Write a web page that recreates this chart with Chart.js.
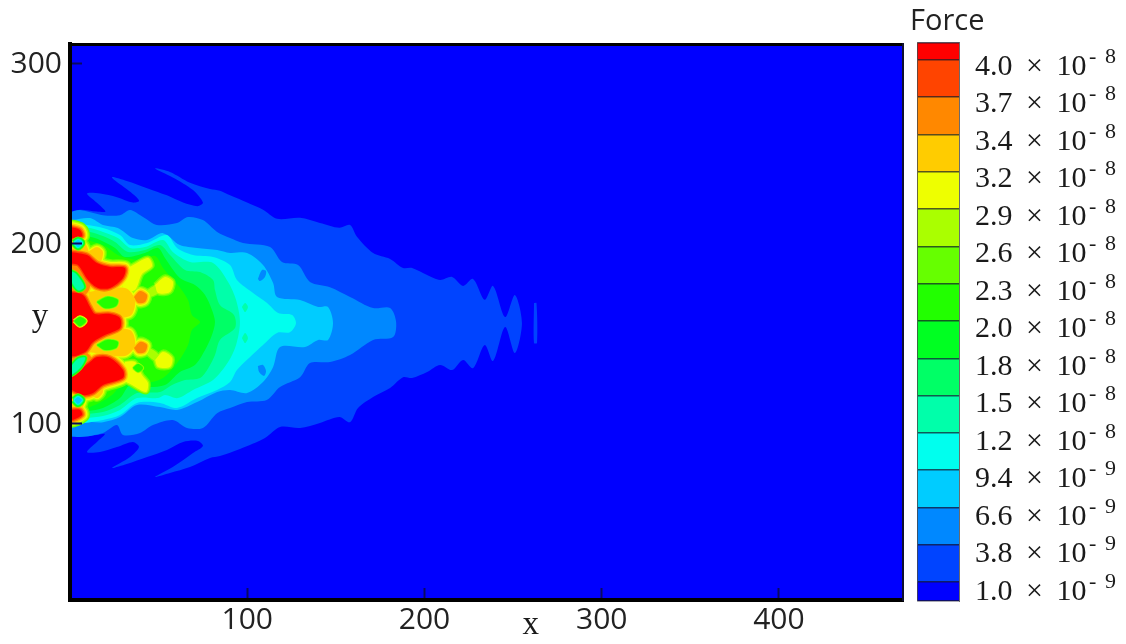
<!DOCTYPE html>
<html>
<head>
<meta charset="utf-8">
<title>Force</title>
<script src="https://cdn.jsdelivr.net/npm/chart.js@4"></script>
<style>
    html, body { margin: 0; padding: 0; background: #fff; }
    #wrap { position: relative; width: 1126px; height: 644px; overflow: hidden; }
    canvas { position: absolute; top: 0; filter: blur(0.5px); }
    #force-map { left: 0; }
    #force-scale { left: 910px; }
</style>
</head>
<body>
<div id="wrap">
    <canvas id="force-map" width="905" height="644"></canvas>
    <canvas id="force-scale" width="216" height="644"></canvas>
</div>
<script>
// Axis ticks
const xTickValues = [100, 200, 300, 400];
const yTickValues = [100, 200, 300];

// Colour scale, lowest band first
const bandColors = ['#0000ff', '#0044ff', '#0088ff', '#00ccff', '#00ffee', '#00ffaa', '#00ff66', '#00ff22',
    '#22ff00', '#66ff00', '#aaff00', '#eeff00', '#ffcc00', '#ff8800', '#ff4400', '#ff0000'];
const levelValues = [1.0e-9, 3.79e-9, 6.57e-9, 9.36e-9, 1.214e-8, 1.493e-8, 1.771e-8, 2.05e-8,
    2.329e-8, 2.607e-8, 2.886e-8, 3.164e-8, 3.443e-8, 3.721e-8, 4.0e-8];
const levelMantissas = ['1.0', '3.8', '6.6', '9.4', '1.2', '1.5', '1.8', '2.0', '2.3', '2.6', '2.9', '3.2', '3.4', '3.7', '4.0'];
const levelExponents = [9, 9, 9, 9, 8, 8, 8, 8, 8, 8, 8, 8, 8, 8, 8];

const plotFrame = [[0, 2.2], [470, 2.2], [470, 311.1], [0, 311.1]];
const contour1 = [[0, 217], [5.6, 219], [15, 218], [20, 218], [15, 223], [9.6, 228], [17, 228], [26.5, 226], [35.5, 223], [39, 224],
    [34, 229], [23.7, 237], [32, 235], [43.5, 231], [54.7, 227], [63.8, 223], [72, 221], [75, 223], [69.4, 230], [58, 237], [48, 242],
    [56.4, 240], [67.7, 234], [79, 230.5], [84.6, 229.5], [90.3, 227], [99.9, 223], [108.9, 219], [116.8, 214], [129.8, 214.5], [141, 211.7],
    [152, 209], [158, 210.5], [161.9, 204], [171, 195], [180.6, 191.7], [187.9, 186.7], [193, 186.7], [201.5, 182.8], [208.8, 180], [215.6, 181.7],
    [221.8, 176.7], [227.4, 180.6], [234, 169], [238.7, 176.7], [245.5, 159.4], [251, 171.7], [255, 156], [251, 139.4], [245.5, 153.9], [238.7, 135],
    [234, 143.9], [227.4, 131], [221.8, 135.6], [215.6, 130], [208.8, 132.8], [201.5, 128.9], [193, 125.6], [187.9, 126], [180.6, 120], [171, 115],
    [162.5, 108.9], [158, 101], [152, 103.9], [141, 100.6], [129.8, 97.8], [118.5, 98.3], [110, 92.2], [95.9, 86.1], [84.6, 82.2], [79, 81.1],
    [67.7, 76.1], [56.4, 72.8], [48, 70.6], [58, 76.1], [69.4, 83.9], [75, 87.8], [72.2, 90.6], [63.8, 90], [54.7, 85.6], [43.5, 81.7],
    [32, 77.8], [23.7, 75.6], [33.9, 81.7], [38.9, 87.2], [35.5, 90], [26.5, 87.2], [16.9, 84.4], [9.6, 84.4], [15.2, 90], [19.7, 94.4],
    [15.2, 93.9], [5.6, 92.8], [0, 93.9]];
const sliver1 = [[261.8, 167.2], [263.2, 167.2], [263.5, 145], [261.8, 145]];
const contour2 = [[0, 217.8], [5.6, 218.9], [18.6, 216], [28.2, 216], [33.9, 218.9], [41.2, 215], [49, 210.6], [60.4, 211.7], [66.6, 215], [75, 213.3],
    [83, 206.7], [90.3, 203.3], [97.6, 200.6], [112.9, 198.3], [119.6, 190], [128.7, 188.3], [135.4, 178.9], [146.7, 176], [158, 170.6], [171, 164.4],
    [180.6, 164.4], [184, 156.7], [182.3, 148.3], [171, 146.7], [158, 138.3], [146.7, 134.4], [135.4, 133.9], [129.8, 126], [118.5, 120.6], [111, 113.3],
    [99.9, 112.2], [90.3, 108.9], [83, 106], [75, 97.8], [66, 97.8], [58, 102.2], [46.8, 99.4], [39.5, 95], [29.9, 93.9], [26.5, 99.4],
    [18.6, 95], [5.6, 92.8], [0, 94.4]];
const contour3 = [[0, 212.8], [1.7, 213.3], [11.3, 214.4], [18.6, 210.6], [27, 208.9], [35.5, 203.3], [43.5, 202.2], [52.5, 206], [62, 199.4], [71.7, 197.8],
    [83, 196.7], [90.3, 195], [99.9, 195], [108.9, 188.3], [114.6, 178.3], [116.8, 170.6], [129.8, 168.9], [140, 165], [145.6, 165], [148.4, 156],
    [145.6, 146.7], [140, 146.7], [132.6, 142.8], [118.5, 142.8], [114.6, 131.7], [108.9, 123.3], [99.9, 117.2], [90.3, 118.9], [83, 117.8], [71.7, 112.2],
    [60.4, 107.8], [50.8, 109.4], [37.8, 110.6], [28.2, 103.9], [18.6, 101], [11.3, 101], [1.7, 99.4], [0, 99.4]];
const dotUpper = [[106, 180.6], [108.3, 185.6], [110.6, 185], [110, 181.7], [107.2, 179.4]];
const dotLower = [[106, 132.2], [108.9, 132.8], [110.6, 129.4], [109.5, 126.7], [106.7, 128.9]];
const contour4 = [[0, 211], [1.7, 211.7], [9.6, 210.6], [18.6, 208.9], [28.2, 205], [33.9, 199.4], [43.5, 200.6], [54.7, 205], [60.4, 197.8], [69.4, 193.9],
    [80.7, 192.8], [90.3, 188.3], [94.2, 180], [103.3, 172.8], [111.2, 167.2], [117.4, 161.7], [125.3, 160.6], [127.5, 156], [124.1, 151], [116.8, 150.6],
    [108.9, 143.9], [101.6, 137.2], [94.2, 130], [90.3, 123.3], [83, 118.9], [71.7, 114.4], [60.4, 108.9], [50.8, 111.7], [37.8, 111.7], [28.2, 105],
    [18.6, 102.2], [7.3, 100.6], [1.7, 101], [0, 101]];
const contour5 = [[0, 210], [11.3, 208.9], [18.6, 206.7], [27, 203.3], [33.9, 197.8], [42.3, 198.3], [52.5, 202.2], [58, 195.6], [67.7, 190], [80.7, 189.4],
    [89.2, 178.9], [93.7, 168.9], [95.9, 156.7], [93.7, 143.9], [89.2, 134.4], [80.7, 124.4], [69.4, 118.9], [60.9, 114.4], [53.6, 116.1], [49.7, 114.4],
    [37.8, 114.4], [28.2, 107.8], [18.6, 104.4], [8.5, 103.3], [0, 103.3]];
const spotUpper = [[97, 165], [98.8, 167.2], [100.4, 165], [98.8, 162.2]];
const spotLower = [[97, 147.8], [98.8, 150.6], [100.4, 147.8], [98.8, 145]];
const contour6 = [[0, 208.9], [11.3, 206.7], [18.6, 204.4], [25.4, 201.1], [32.7, 195.6], [42.3, 196.7], [50.8, 199.4], [56.4, 193.9], [64.9, 185.6], [73.4, 184.4],
    [80.7, 180], [81.8, 174.4], [84.6, 166.1], [92.5, 160.6], [93.1, 153.3], [84.6, 146.7], [81.8, 138.3], [78, 131], [73.4, 125.6], [64.9, 124.4], [57.6, 121.7], [50.8, 117.8], [37.8, 117.2],
    [28.2, 110.6], [18.6, 106.7], [8.5, 105.6], [0, 105.6]];
const contour7 = [[0, 207.8], [10.2, 204.4], [16.9, 202.2], [25.4, 197.8], [31, 192.8], [42.3, 195], [49.7, 197.8], [53.6, 192.2], [62, 181.1], [70.5, 177.2],
    [76.2, 171.7], [80.1, 163.3], [81.8, 156.7], [80.1, 149.4], [76.2, 141.1], [70.5, 132.8], [62, 128.9], [53.6, 121.7], [42.3, 120.6], [33.9, 121.7], [28.2, 114.4], [18.6, 108.9],
    [10.2, 107.2], [0, 106.7]];
const contour8 = [[0, 206.7], [10.2, 202.2], [19.7, 198.9], [28.2, 193.3], [39.5, 191.1], [48, 193.3], [52.5, 186.7], [60.9, 177.2], [66.6, 168.9], [68.8, 160.6], [73.4, 156.7],
    [68.8, 152.2], [66.6, 143.9], [60.9, 134.4], [52.5, 125.6], [42.3, 122.8], [31, 123.3], [23.7, 116.1], [14.1, 110.6], [0, 107.8]];

// Hot spots near the wall
const redA = [[0, 209.5], [5.6, 207.8], [6.8, 204.4], [1.7, 203.3], [0, 203.3]];
const redB = [[0, 195.6], [9.6, 193.9], [15.2, 189.4], [22.6, 187.2], [31, 186.7], [29.9, 181.1], [22.6, 175.6], [15.8, 175.6], [10.2, 180], [4.5, 188.3], [0, 189.4]];
const redC = [[0, 173.3], [7.3, 171.7], [11.3, 165], [14.1, 161.1], [22.6, 161.1], [28.2, 158.9], [28.2, 153.3], [19.7, 149.4], [13, 145.6], [8.5, 140], [0, 138.3]];
const redD = [[0, 125.6], [11.3, 134.4], [15.2, 137.2], [22.6, 136.7], [29.9, 130], [29.9, 125.6], [18.6, 121.7], [13, 117.2], [7.3, 116.1], [0, 120]];
const redE = [[0, 107.8], [5.6, 107.8], [6.8, 105], [0, 102.2]];
const stubUpper = [[10.2, 195.6], [15.2, 198.3], [18.6, 195.6], [16.9, 190], [11.3, 192.2]];
const stubLower = [[10.2, 117.8], [15.2, 114.4], [18.6, 117.8], [16.9, 122.2], [11.3, 121.1]];
const ridgeUpper = [[28.2, 184.4], [36.7, 188.9], [44, 192.2], [46.3, 187.8], [40.6, 183.3], [36.7, 174.4], [31, 174.4]];
const ridgeLower = [[31, 134.4], [36.7, 134.4], [40.6, 127.2], [44, 122.8], [42.9, 117.8], [35, 121.7], [29.3, 125.6]];
const ringUpper = [[10.2, 173.3], [31, 175.6], [36.7, 168.9], [33.9, 160], [16.9, 160], [12.4, 164.4]];
const ringLower = [[10.2, 140], [31, 137.8], [36.7, 143.9], [33.9, 152.2], [16.9, 152.2], [12.4, 147.8]];
const orangeUpper = [[36.1, 170.6], [39.5, 173.9], [43.5, 171.7], [42.3, 167.8], [38.4, 167.2]];
const orangeLower = [[36.1, 142.2], [39.5, 145.6], [43.5, 143.9], [42.3, 140], [38.4, 139.4]];
const yellowUpper = [[48, 177.2], [53.6, 181.7], [58.1, 179], [56.4, 173.3], [49.7, 172.8]];
const yellowLower = [[48, 135.6], [52.5, 140], [57.6, 136.7], [56.4, 131.7], [49.7, 131.7]];
const linkUpper = [[43.5, 174.4], [49.1, 177.2], [49.7, 172.8], [44, 170.6]];
const linkLower = [[43.5, 138.3], [49.1, 134.4], [49.7, 138.9], [44, 142.2]];
const wallUpper = [[0, 202.2], [6.8, 202.2], [10.2, 195.6], [0, 194.4]];
const wallMidUpper = [[0, 188.3], [5.6, 186.7], [11.3, 177.2], [8.5, 171.7], [0, 172.2]];
const wallMidLower = [[0, 138.3], [8.5, 140], [12.4, 135.6], [5.6, 128.9], [0, 124.4]];
const wallLower = [[0, 117.8], [8.5, 116.7], [6.8, 108.9], [0, 108.9]];

// Cooler pockets inside the hot spots
const pocketUpper = [[15.2, 167.8], [20.9, 170.6], [27, 168.9], [25.9, 165.6], [19.7, 164.4]];
const pocketLower = [[15.2, 143.9], [20.9, 146.7], [27, 145.6], [25.9, 142.2], [19.7, 141.1]];
const pocketRidge = [[35.5, 131.1], [38.4, 133.3], [41.2, 131.1], [38.4, 128.9]];
const holeA = [[2.3, 200.6], [4.5, 202.2], [6.8, 200.6], [4.5, 198.3]];
const holeB = [[0, 185], [3.4, 183.3], [7.9, 176.1], [4.5, 174.4], [0, 181.1]];
const holeC = [[2.3, 157.2], [5.6, 159.4], [9, 157.2], [5.6, 154.4]];
const holeD = [[0, 131.1], [4.5, 136.1], [8.5, 136.7], [5.6, 131.1], [0, 127.2]];
const holeE = [[2.3, 113.3], [4.5, 115], [6.8, 113.3], [4.5, 111.1]];

// [shape, band]
const contourList = [[plotFrame, 0], [contour1, 1], [sliver1, 1], [contour2, 2], [contour3, 3], [dotUpper, 2], [dotLower, 2],
    [contour4, 4], [contour5, 5], [spotUpper, 5], [spotLower, 5], [contour6, 6], [contour7, 7], [contour8, 8]];
// [shape, peak band]
const hotList = [[redA, 15], [redB, 15], [redC, 15], [redD, 15], [redE, 15], [stubUpper, 12], [stubLower, 12], [ridgeUpper, 11], [ridgeLower, 11],
    [ringUpper, 12], [ringLower, 12], [orangeUpper, 13], [orangeLower, 13], [yellowUpper, 11], [yellowLower, 11], [linkUpper, 10], [linkLower, 10],
    [wallUpper, 12], [wallMidUpper, 13], [wallMidLower, 13], [wallLower, 12]];
// [shape, outer band, inner band]
const pocketList = [[pocketUpper, 10, 8], [pocketLower, 10, 8], [pocketRidge, 10, 8], [holeA, 9, 3], [holeB, 9, 5], [holeC, 11, 8], [holeD, 9, 5], [holeE, 9, 3]];

function shapeDataset(points, band, strokeWidth) {
    return {
        data: points.concat([points[0]]),
        showLine: true,
        pointRadius: 0,
        fill: 'shape',
        tension: 0.3,
        clip: 0,
        borderWidth: strokeWidth,
        borderJoinStyle: 'round',
        borderColor: bandColors[band],
        backgroundColor: bandColors[band]
    };
}

function buildMapDatasets() {
    const sets = contourList.map(([shape, band]) => shapeDataset(shape, band, 0));
    // Tight rings around the hot spots, drawn level by level
    for (let band = 9; band <= 15; band++) {
        hotList.forEach(([shape, peak]) => {
            if (peak >= band) sets.push(shapeDataset(shape, band, (peak - band) * 2.6));
        });
    }
    pocketList.forEach(([shape, outer, inner]) => {
        for (let band = outer; band >= inner; band--) {
            sets.push(shapeDataset(shape, band, (band - inner) * 1.2));
        }
    });
    // Chart.js paints the last dataset first
    return sets.reverse();
}

const frameBorder = (width, color) => ({ display: true, width: width, color: color, z: 2 });

const axisNames = {
    id: 'axisNames',
    afterDraw(chart) {
        const ctx = chart.ctx;
        ctx.save();
        ctx.fillStyle = '#1a1a1a';
        ctx.font = '33px "Liberation Serif"';
        ctx.textAlign = 'center';
        ctx.textBaseline = 'middle';
        ctx.fillText('x', chart.scales.x.getPixelForValue(260), 625);
        ctx.fillText('y', 40, chart.scales.y.getPixelForValue(159));
        ctx.restore();
    }
};

const exponentMarks = {
    id: 'exponentMarks',
    afterDraw(chart) {
        const ctx = chart.ctx;
        const scale = chart.scales.labels;
        ctx.save();
        ctx.fillStyle = '#1a1a1a';
        ctx.textBaseline = 'middle';
        ctx.textAlign = 'left';
        ctx.font = '22px "Liberation Serif"';
        levelValues.forEach((value, i) => {
            const y = scale.getPixelForValue(value) - 10;
            ctx.fillText('-', 179, y);
            ctx.fillText(String(levelExponents[i]), 195, y);
        });
        ctx.restore();
    }
};

document.addEventListener('DOMContentLoaded', () => {
    const tickColor = '#0a0a60';
    const tickFont = { family: '"Open Sans"', size: 30 };

    new Chart(document.getElementById('force-map').getContext('2d'), {
        type: 'scatter',
        data: { datasets: buildMapDatasets() },
        plugins: [axisNames],
        options: {
            responsive: false,
            animation: false,
            devicePixelRatio: 1,
            layout: { padding: { top: 44, right: 2 } },
            plugins: { legend: { display: false }, tooltip: { enabled: false } },
            scales: {
                x: {
                    type: 'linear', position: 'bottom', min: 0, max: 470,
                    afterBuildTicks: scale => { scale.ticks = xTickValues.map(v => ({ value: v })); },
                    afterFit: scale => { scale.height = 44; },
                    border: frameBorder(4, '#000'),
                    grid: { drawOnChartArea: false, tickLength: -12, tickColor: tickColor, tickWidth: 2, z: 1 },
                    ticks: { color: '#222', font: tickFont, padding: 14, maxRotation: 0, autoSkip: false }
                },
                y: {
                    type: 'linear', position: 'left', min: 2.2, max: 311.1,
                    afterBuildTicks: scale => { scale.ticks = yTickValues.map(v => ({ value: v })); },
                    afterFit: scale => { scale.width = 70; },
                    border: frameBorder(4, '#000'),
                    grid: { drawOnChartArea: false, tickLength: -12, tickColor: tickColor, tickWidth: 2, z: 1 },
                    ticks: { color: '#222', font: tickFont, padding: 20, autoSkip: false }
                },
                xTop: {
                    type: 'linear', position: 'top', min: 0, max: 470,
                    afterFit: scale => { scale.height = 0; },
                    border: frameBorder(3, '#000'),
                    grid: { display: false },
                    ticks: { display: false }
                },
                yRight: {
                    type: 'linear', position: 'right', min: 2.2, max: 311.1,
                    afterFit: scale => { scale.width = 0; },
                    border: frameBorder(2, '#101030'),
                    grid: { display: false },
                    ticks: { display: false }
                }
            }
        }
    });

    // Colour bar: one floating bar per band
    const bandMin = -4.2e-10;
    const bandMax = 4.127e-8;
    const edges = [bandMin].concat(levelValues, [bandMax]);

    new Chart(document.getElementById('force-scale').getContext('2d'), {
        type: 'bar',
        data: {
            labels: ['Force'],
            datasets: bandColors.map((color, i) => ({
                data: [[edges[i], edges[i + 1]]],
                backgroundColor: color,
                yAxisID: 'y',
                grouped: false,
                barPercentage: 1,
                categoryPercentage: 1
            }))
        },
        plugins: [exponentMarks],
        options: {
            responsive: false,
            animation: false,
            devicePixelRatio: 1,
            layout: { padding: { bottom: 43 } },
            plugins: {
                legend: { display: false },
                tooltip: { enabled: false },
                title: {
                    display: true,
                    text: 'Force',
                    align: 'start',
                    color: '#222',
                    font: { family: '"Open Sans"', size: 29, weight: 'normal', lineHeight: 1.2 },
                    padding: { top: 4, bottom: 4 }
                }
            },
            scales: {
                x: { display: false },
                y: {
                    position: 'left', min: bandMin, max: bandMax,
                    afterBuildTicks: scale => { scale.ticks = edges.map(v => ({ value: v })); },
                    afterFit: scale => { scale.width = 7; },
                    border: { display: true, color: 'rgba(70,70,70,0.8)', width: 1, z: 2 },
                    grid: { drawTicks: false, color: 'rgba(20,20,40,0.7)', lineWidth: 1.5, z: 1 },
                    ticks: { display: false }
                },
                labels: {
                    position: 'right', min: 3.31e-10, max: 4.178e-8,
                    afterBuildTicks: scale => { scale.ticks = levelValues.map(v => ({ value: v })); },
                    afterFit: scale => { scale.width = 167; },
                    border: { display: true, color: 'rgba(70,70,70,0.8)', width: 1 },
                    grid: { display: false, drawTicks: false },
                    ticks: {
                        color: '#1a1a1a',
                        font: { family: '"Liberation Serif"', size: 30 },
                        padding: 16,
                        autoSkip: false,
                        callback: (value, index) => levelMantissas[index] + ' \u2009×\u2009 10'
                    }
                }
            }
        }
    });
});
</script>
</body>
</html>
